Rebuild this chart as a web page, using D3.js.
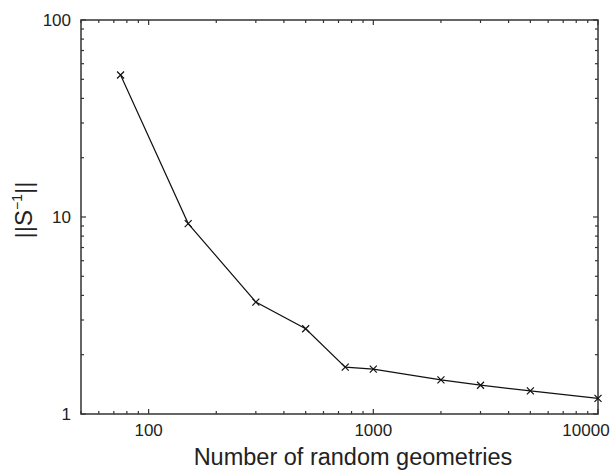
<!DOCTYPE html>
<html>
<head>
<meta charset="utf-8">
<script src="https://cdn.jsdelivr.net/npm/d3@7"></script>
<style>
  body { margin: 0; background: #fff; }
  text { font-family: "Liberation Sans", Arial, sans-serif; fill: #222; }
</style>
</head>
<body>
<div id="chart"></div>
<script>
(function () {

  // data ---------------------------------------------------------
  const geometries = [75, 150, 300, 500, 750, 1000, 2000, 3000, 5000, 10000];
  const normValues = [52.6, 9.26, 3.7, 2.71, 1.73, 1.69, 1.49, 1.40, 1.31, 1.20];
  const xTickLabels = [100, 1000, 10000];
  const yTickLabels = [1, 10, 100];

  const W = 612, H = 473;
  const margin = { top: 20, right: 14, bottom: 59, left: 81 };
  const iw = W - margin.left - margin.right;
  const ih = H - margin.top - margin.bottom;

  const svg = d3.select("#chart").append("svg")
    .attr("width", W)
    .attr("height", H);

  const g = svg.append("g")
    .attr("transform", `translate(${margin.left},${margin.top})`);

  const x = d3.scaleLog().domain([50, 10000]).range([0, iw]);
  const y = d3.scaleLog().domain([1, 100]).range([ih, 0]);

  // minor tick values (all integer multiples within the domain)
  const xMinor = x.ticks().filter(v => !xTickLabels.includes(v) && v >= 50 && v <= 10000);
  const yMinor = y.ticks().filter(v => !yTickLabels.includes(v));

  const axisColor = "#333";

  // frame
  g.append("rect")
    .attr("width", iw)
    .attr("height", ih)
    .attr("fill", "none")
    .attr("stroke", axisColor)
    .attr("stroke-width", 1.5);

  // ticks pointing inward on all four sides
  const ticks = g.append("g").attr("stroke", axisColor).attr("stroke-width", 1.2);

  function xTicks(vals, len) {
    vals.forEach(v => {
      ticks.append("line").attr("x1", x(v)).attr("x2", x(v)).attr("y1", ih).attr("y2", ih - len);
      ticks.append("line").attr("x1", x(v)).attr("x2", x(v)).attr("y1", 0).attr("y2", len);
    });
  }
  function yTicks(vals, len) {
    vals.forEach(v => {
      ticks.append("line").attr("y1", y(v)).attr("y2", y(v)).attr("x1", 0).attr("x2", len);
      ticks.append("line").attr("y1", y(v)).attr("y2", y(v)).attr("x1", iw).attr("x2", iw - len);
    });
  }
  xTicks(xMinor, 3);
  xTicks(xTickLabels, 5);
  yTicks(yMinor, 3);
  yTicks(yTickLabels, 5);

  // tick labels
  g.selectAll(".xlab")
    .data(xTickLabels)
    .enter().append("text")
    .attr("x", d => x(d))
    .attr("dx", d => d === 10000 ? -12 : 0)
    .attr("y", ih + 22)
    .attr("text-anchor", "middle")
    .style("font-size", "17px")
    .text(d => d);

  g.selectAll(".ylab")
    .data(yTickLabels)
    .enter().append("text")
    .attr("x", -10)
    .attr("y", d => y(d))
    .attr("dy", "0.35em")
    .attr("text-anchor", "end")
    .style("font-size", "17px")
    .text(d => d);

  // axis titles
  svg.append("text")
    .attr("x", 353)
    .attr("y", 465)
    .attr("text-anchor", "middle")
    .style("font-size", "23.5px")
    .text("Number of random geometries");

  const yt = svg.append("text")
    .attr("transform", "translate(32,210) rotate(-90)")
    .attr("text-anchor", "middle")
    .style("font-size", "24px");
  yt.append("tspan").text("||S");
  yt.append("tspan").attr("dy", -10).style("font-size", "14px").text("−1");
  yt.append("tspan").attr("dy", 10).text("||");

  // line + markers
  const pts = geometries.map((v, i) => [v, normValues[i]]);

  g.append("path")
    .datum(pts)
    .attr("fill", "none")
    .attr("stroke", "#111")
    .attr("stroke-width", 1.2)
    .attr("d", d3.line().x(d => x(d[0])).y(d => y(d[1])));

  const s = 3.5;
  g.selectAll(".mark")
    .data(pts)
    .enter().append("path")
    .attr("fill", "none")
    .attr("stroke", "#111")
    .attr("stroke-width", 1.2)
    .attr("d", d => {
      const cx = x(d[0]), cy = y(d[1]);
      return `M${cx - s},${cy - s}L${cx + s},${cy + s}M${cx - s},${cy + s}L${cx + s},${cy - s}`;
    });

})();
</script>
</body>
</html>
